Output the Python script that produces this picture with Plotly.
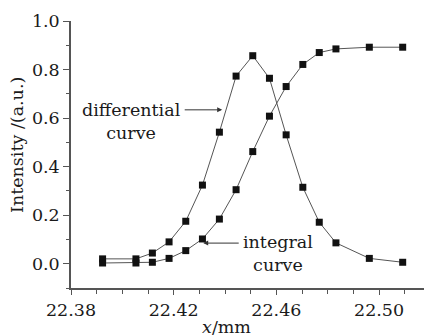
import plotly.graph_objects as go

x_vals = [22.3923, 22.4053, 22.4117, 22.4182, 22.4247, 22.4312, 22.4378, 22.4443,
          22.4508, 22.4573, 22.4638, 22.4703, 22.4767, 22.4832, 22.4962, 22.5092]
differential = [0.020, 0.020, 0.044, 0.090, 0.175, 0.324, 0.542, 0.773,
                0.857, 0.764, 0.531, 0.315, 0.171, 0.086, 0.022, 0.006]
integral = [0.003, 0.003, 0.006, 0.022, 0.054, 0.102, 0.184, 0.305,
            0.462, 0.608, 0.730, 0.821, 0.870, 0.885, 0.892, 0.892]

FONT = "DejaVu Serif"
FS = 17.5
fig = go.Figure()
for ys in (differential, integral):
    fig.add_trace(go.Scatter(
        x=x_vals, y=ys, mode="lines+markers",
        line=dict(color="#555555", width=1),
        marker=dict(symbol="square", size=7, color="#111111"),
        showlegend=False, cliponaxis=False))

fig.update_layout(
    width=424, height=336,
    margin=dict(l=71, r=0, t=21, b=48),
    paper_bgcolor="white", plot_bgcolor="white",
    font=dict(family=FONT, size=FS, color="#1a1a1a"),
    xaxis=dict(range=[22.38, 22.5175], tick0=22.38, dtick=0.04, tickformat=".2f",
               ticks="outside", ticklen=5, tickcolor="#555555", automargin=False,
               showline=True, linecolor="#555555", linewidth=1.5,
               showgrid=False, zeroline=False,
               minor=dict(dtick=0.01, tick0=22.38, ticks="outside", ticklen=4,
                          tickcolor="#555555", showgrid=False)),
    yaxis=dict(range=[-0.1, 1.0], tick0=0, dtick=0.2, tickformat=".1f",
               ticks="outside", ticklen=6, tickcolor="#555555", automargin=False,
               showline=True, linecolor="#555555", linewidth=1.5,
               showgrid=False, zeroline=False,
               minor=dict(dtick=0.1, ticks="outside", ticklen=3,
                          tickcolor="#555555", showgrid=False)),
)

fig.add_annotation(x=0, y=(288 - 145) / 267, xref="paper", yref="paper",
                   showarrow=False, textangle=-90, xanchor="center",
                   yanchor="middle", xshift=-54,
                   text="Intensity /(a.u.)", font=dict(family=FONT, size=FS))

fig.add_annotation(x=22.4404, y=0, xref="x", yref="paper", yshift=-27,
                   yanchor="top", showarrow=False,
                   text="<i>x</i>/mm", font=dict(family=FONT, size=FS))

fig.add_annotation(x=22.4035, y=0.588, xref="x", yref="y", showarrow=False,
                   text="differential<br>curve", align="center",
                   font=dict(family=FONT, size=FS))
fig.add_annotation(x=22.4389, y=0.634, xref="x", yref="y", ax=-39, ay=0,
                   showarrow=True, arrowhead=2, arrowsize=1, arrowwidth=1,
                   arrowcolor="#333333", text="")
fig.add_annotation(x=22.4606, y=0.044, xref="x", yref="y", showarrow=False,
                   text="integral<br>curve", align="center",
                   font=dict(family=FONT, size=FS))
fig.add_annotation(x=22.4315, y=0.085, xref="x", yref="y", ax=37, ay=0,
                   showarrow=True, arrowhead=2, arrowsize=1, arrowwidth=1,
                   arrowcolor="#333333", text="")

fig.write_html("out.html", config={"displayModeBar": False},
               post_script="document.body.style.margin='0';document.body.style.overflow='hidden';")
